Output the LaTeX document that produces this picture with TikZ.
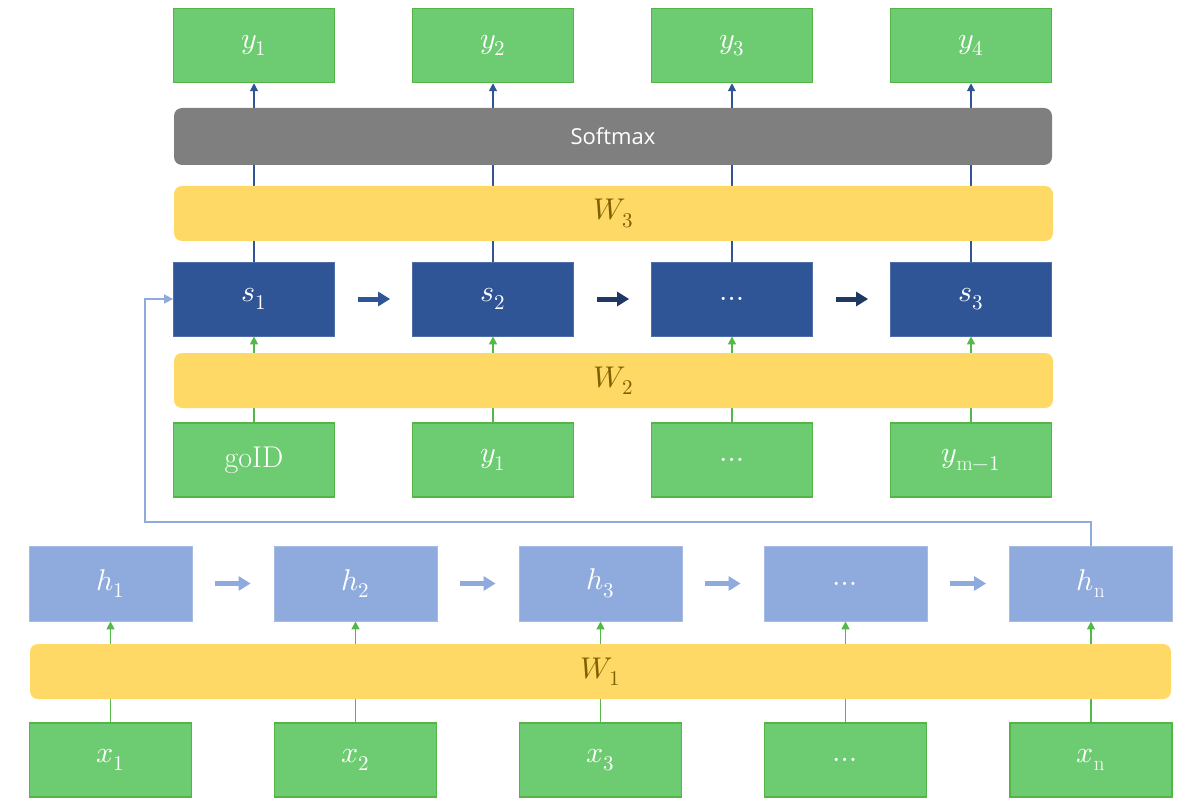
\documentclass[tikz,border=0pt]{standalone}
\usepackage{fontspec}
\usepackage{unicode-math}
\newfontfamily\uisans{Open Sans}
\usetikzlibrary{arrows.meta,backgrounds}
\definecolor{gfill}{RGB}{109,203,114}
\definecolor{gline}{RGB}{84,180,70}
\definecolor{sblue}{RGB}{47,85,151}
\definecolor{hblue}{RGB}{143,170,220}
\definecolor{ybar}{RGB}{255,217,102}
\definecolor{wtext}{RGB}{127,96,0}
\definecolor{grayb}{RGB}{127,127,127}
\definecolor{navy}{RGB}{32,56,100}
\definecolor{garr}{RGB}{84,184,72}
\tikzset{
  box/.style={minimum width=161pt, minimum height=74pt, inner sep=0pt, text=white, font=\fontsize{30}{34}\selectfont},
  gbox/.style={box, fill=gfill, draw=gline, line width=1.5pt},
  sbox/.style={box, fill=sblue, draw=sblue!85!white, line width=0.8pt},
  hbox/.style={box, fill=hblue, draw=hblue!80!white, line width=0.8pt, minimum width=163pt, minimum height=75pt},
  bar/.style={rounded corners=8pt, fill=ybar, minimum height=55pt, minimum width=879pt, inner sep=0pt, text=wtext, font=\fontsize{30}{34}\selectfont},
  sbar/.style={rounded corners=8pt, fill=grayb, minimum height=57pt, minimum width=878pt, inner sep=0pt, text=white, font=\uisans\fontsize{22}{26}\selectfont},
  bluearr/.style={draw=sblue, line width=1.2pt, -{Triangle[width=8pt,length=8pt]}},
  greenarr/.style={draw=garr, line width=1.5pt, -{Triangle[width=8pt,length=8pt]}},
  fbarr/.style={draw=hblue, line width=1.5pt, -{Triangle[width=9pt,length=9pt]}},
  fatarr/.style={line width=5pt, -{Triangle[width=14pt,length=12pt]}},
}
\begin{document}
\begin{tikzpicture}[x=1pt,y=-1pt]
\useasboundingbox (0,0) rectangle (1196,810);
% output row
\node[gbox] (o1) at (254,45.5) {$y_1$};
\node[gbox] (o2) at (493,45.5) {$y_2$};
\node[gbox] (o3) at (732,45.5) {$y_3$};
\node[gbox] (o4) at (971,45.5) {$y_4$};
% bars
\node[sbar] (soft) at (613,136.5) {Softmax};
\node[bar] (w3) at (613.5,213.5) {$W_3$};
% decoder states
\node[sbox] (s1) at (254,299) {$s_1$};
\node[sbox] (s2) at (493,299) {$s_2$};
\node[sbox] (s3) at (732,299) {$\ldots$};
\node[sbox] (s4) at (971,299) {$s_3$};
\node[bar] (w2) at (613.5,380.5) {$W_2$};
% decoder inputs
\node[gbox] (i1) at (254,460) {goID};
\node[gbox] (i2) at (493,460) {$y_1$};
\node[gbox] (i3) at (732,460) {$\ldots$};
\node[gbox] (i4) at (971,460) {$y_{\mathrm{m}-1}$};
% encoder
\node[hbox] (h1) at (110.5,583.5) {$h_1$};
\node[hbox] (h2) at (355.5,583.5) {$h_2$};
\node[hbox] (h3) at (600.5,583.5) {$h_3$};
\node[hbox] (h4) at (845.5,583.5) {$\ldots$};
\node[hbox] (h5) at (1091,583.5) {$h_{\mathrm{n}}$};
\node[bar, minimum width=1141pt] (w1) at (600.5,671.5) {$W_1$};
\node[gbox, minimum width=162pt] (x1) at (110.5,760) {$x_1$};
\node[gbox, minimum width=162pt] (x2) at (355.5,760) {$x_2$};
\node[gbox, minimum width=162pt] (x3) at (600.5,760) {$x_3$};
\node[gbox, minimum width=162pt] (x4) at (845.5,760) {$\ldots$};
\node[gbox, minimum width=162pt] (x5) at (1091,760) {$x_{\mathrm{n}}$};
\coordinate (fb) at (145,522);
\begin{scope}[on background layer]
  \foreach \i in {1,2,3,4} {
    \draw[bluearr] (s\i.north) -- (o\i.south);
    \draw[greenarr] (i\i.north) -- (s\i.south);
  }
  \foreach \i in {1,2,3,4,5} {
    \draw[greenarr] (x\i.north) -- (h\i.south);
  }
\end{scope}
% recurrent arrows
\draw[fatarr, draw=sblue, fill=sblue, shorten <=23pt, shorten >=22pt] (s1.east) -- (s2.west);
\draw[fatarr, draw=navy, fill=navy, shorten <=23pt, shorten >=22pt] (s2.east) -- (s3.west);
\draw[fatarr, draw=navy, fill=navy, shorten <=23pt, shorten >=22pt] (s3.east) -- (s4.west);
\foreach \a/\b in {h1/h2,h2/h3,h3/h4,h4/h5} {
  \draw[fatarr, draw=hblue, fill=hblue, shorten <=23pt, shorten >=23pt] (\a.east) -- (\b.west);
}
% feedback
\draw[fbarr] (h5.north) |- (fb) |- (s1.west);
\end{tikzpicture}
\end{document}
